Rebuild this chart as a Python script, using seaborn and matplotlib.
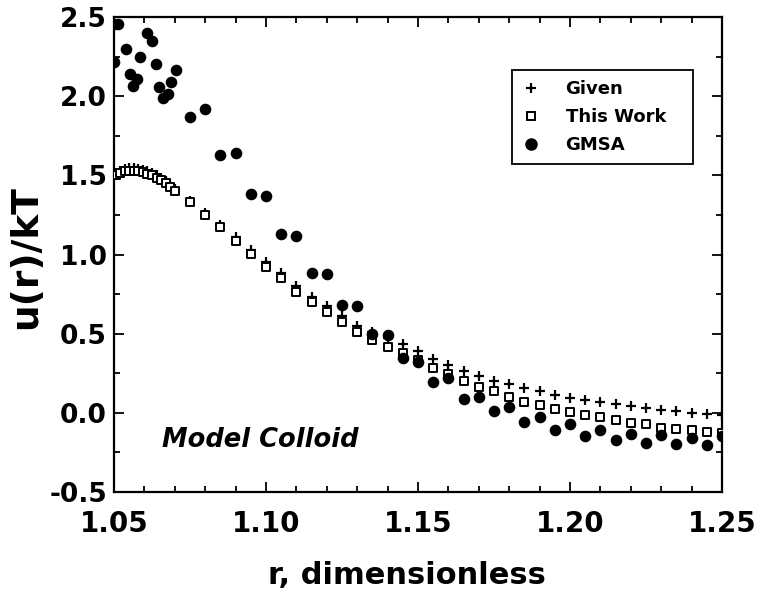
import numpy as np
import pandas as pd
import matplotlib
matplotlib.use("Agg")
import matplotlib.pyplot as plt
import seaborn as sns
from matplotlib.lines import Line2D
from matplotlib.ticker import FixedLocator, FixedFormatter, MultipleLocator

# ---------------- data ----------------
series_names = ["Given", "This Work", "GMSA"]

r_dense = [1.0505, 1.0520, 1.0535, 1.0550, 1.0565, 1.0580, 1.0595, 1.0610,
           1.0625, 1.0640, 1.0655, 1.0670, 1.0685, 1.0700]
work_dense = [1.50, 1.515, 1.525, 1.53, 1.53, 1.525, 1.52, 1.51,
              1.50, 1.485, 1.47, 1.45, 1.43, 1.40]
given_dense = [1.515, 1.53, 1.54, 1.545, 1.545, 1.54, 1.535, 1.525,
               1.515, 1.50, 1.485, 1.465, 1.445, 1.415]

r_grid = [1.075, 1.080, 1.085, 1.090, 1.095, 1.100, 1.105, 1.110, 1.115,
          1.120, 1.125, 1.130, 1.135, 1.140, 1.145, 1.150, 1.155, 1.160,
          1.165, 1.170, 1.175, 1.180, 1.185, 1.190, 1.195, 1.200, 1.205,
          1.210, 1.215, 1.220, 1.225, 1.230, 1.235, 1.240, 1.245, 1.250]
work_grid = [1.330, 1.251, 1.173, 1.086, 1.003, 0.923, 0.855, 0.766, 0.702,
             0.636, 0.571, 0.509, 0.458, 0.416, 0.380, 0.335, 0.285, 0.245,
             0.200, 0.165, 0.135, 0.100, 0.070, 0.048, 0.024, 0.003, -0.011,
             -0.027, -0.047, -0.067, -0.073, -0.093, -0.102, -0.110, -0.121, -0.125]
given_grid = [1.340, 1.265, 1.190, 1.110, 1.030, 0.950, 0.885, 0.800, 0.735,
              0.672, 0.610, 0.550, 0.510, 0.470, 0.435, 0.390, 0.340, 0.300,
              0.262, 0.230, 0.200, 0.182, 0.159, 0.135, 0.112, 0.093, 0.082,
              0.068, 0.054, 0.043, 0.029, 0.019, 0.010, 0.000, -0.009, -0.016]

gmsa_r = [1.0500, 1.0500, 1.0514, 1.0540, 1.0553, 1.0561, 1.0575, 1.0586,
          1.0607, 1.0624, 1.0638, 1.0648, 1.0660, 1.0679, 1.0688, 1.0704,
          1.075, 1.080, 1.085, 1.090, 1.095, 1.100, 1.105, 1.110, 1.115,
          1.120, 1.125, 1.130, 1.135, 1.140, 1.145, 1.150, 1.155, 1.160,
          1.165, 1.170, 1.175, 1.180, 1.185, 1.190, 1.195, 1.200, 1.205,
          1.210, 1.215, 1.220, 1.225, 1.230, 1.235, 1.240, 1.245, 1.250]
gmsa_u = [2.46, 2.22, 2.454, 2.302, 2.142, 2.064, 2.111, 2.249,
          2.403, 2.350, 2.207, 2.060, 1.992, 2.014, 2.092, 2.167,
          1.867, 1.921, 1.627, 1.645, 1.380, 1.370, 1.128, 1.120, 0.884,
          0.878, 0.679, 0.674, 0.497, 0.495, 0.347, 0.320, 0.195, 0.222,
          0.087, 0.103, 0.009, 0.036, -0.055, -0.027, -0.110, -0.071, -0.144,
          -0.107, -0.173, -0.131, -0.189, -0.139, -0.195, -0.158, -0.204, -0.146]

x_ticks = [1.05, 1.10, 1.15, 1.20, 1.25]
x_tick_labels = ["1.05", "1.10", "1.15", "1.20", "1.25"]
y_ticks = [-0.5, 0.0, 0.5, 1.0, 1.5, 2.0, 2.5]
y_tick_labels = ["-0.5", "0.0", "0.5", "1.0", "1.5", "2.0", "2.5"]

# ---------------- figure ----------------
sns.set_theme(style="ticks")
plt.rcParams["font.family"] = ["DejaVu Sans"]
plt.rcParams["font.weight"] = "bold"
plt.rcParams["axes.unicode_minus"] = False
for key in ["text.color", "axes.labelcolor", "xtick.color", "ytick.color",
            "axes.edgecolor", "xtick.labelcolor", "ytick.labelcolor"]:
    plt.rcParams[key] = "black"

fig = plt.figure(figsize=(7.61, 6.01), dpi=100)
ax = fig.add_axes([0.1498, 0.1814, 0.799, 0.790])

df_given = pd.DataFrame({"r": r_dense + r_grid, "u": given_dense + given_grid})
df_work = pd.DataFrame({"r": r_dense + r_grid, "u": work_dense + work_grid})
df_gmsa = pd.DataFrame({"r": gmsa_r, "u": gmsa_u})

sns.scatterplot(data=df_given, x="r", y="u", marker="+", s=48, color="black",
                linewidth=1.6, ax=ax, zorder=3)
sns.scatterplot(data=df_work, x="r", y="u", marker="s", s=34, facecolor="white",
                edgecolor="black", linewidth=1.4, ax=ax, zorder=4)
sns.scatterplot(data=df_gmsa, x="r", y="u", marker="o", s=70, color="black",
                edgecolor="black", linewidth=0, ax=ax, zorder=5)

ax.set_xlim(1.05, 1.25)
ax.set_ylim(-0.5, 2.5)
ax.xaxis.set_major_locator(FixedLocator(x_ticks))
ax.xaxis.set_major_formatter(FixedFormatter(x_tick_labels))
ax.xaxis.set_minor_locator(MultipleLocator(0.01))
ax.yaxis.set_major_locator(FixedLocator(y_ticks))
ax.yaxis.set_major_formatter(FixedFormatter(y_tick_labels))
ax.yaxis.set_minor_locator(MultipleLocator(0.25))

ax.tick_params(which="both", direction="in", top=True, right=True,
               width=1.3, color="black", labelcolor="black")
ax.tick_params(which="major", length=7)
ax.tick_params(which="minor", length=4)
ax.tick_params(axis="x", which="major", labelsize=20, pad=13)
ax.tick_params(axis="y", which="major", labelsize=19, pad=5)

for sp in ax.spines.values():
    sp.set_linewidth(1.6)
    sp.set_color("black")

ax.set_xlabel("r, dimensionless", fontsize=22, fontweight="bold", color="black")
ax.xaxis.set_label_coords(0.482, -0.145)
ax.set_ylabel("u(r)/kT", fontsize=27, fontweight="bold", color="black")
ax.yaxis.set_label_coords(-0.115, 0.495)

ax.text(0.079, 0.095, "Model Colloid", transform=ax.transAxes, fontsize=18.5,
        fontstyle="italic", fontweight="bold", ha="left", va="baseline",
        color="black")

handles = [
    Line2D([], [], ls="none", marker="+", ms=7, mew=1.6, color="black"),
    Line2D([], [], ls="none", marker="s", ms=6, mfc="white", mec="black", mew=1.4),
    Line2D([], [], ls="none", marker="o", ms=8, color="black"),
]
leg = ax.legend(handles, series_names, loc="upper left",
                bbox_to_anchor=(0.655, 0.672, 0.297, 0.216), mode="expand",
                borderaxespad=0, fontsize=13, frameon=True, fancybox=False,
                edgecolor="black", framealpha=1, handlelength=1.0,
                handletextpad=1.4, labelspacing=0.55, borderpad=0.55)
leg.get_frame().set_linewidth(1.3)
for t in leg.get_texts():
    t.set_color("black")

fig.savefig("out.png", dpi=100)
